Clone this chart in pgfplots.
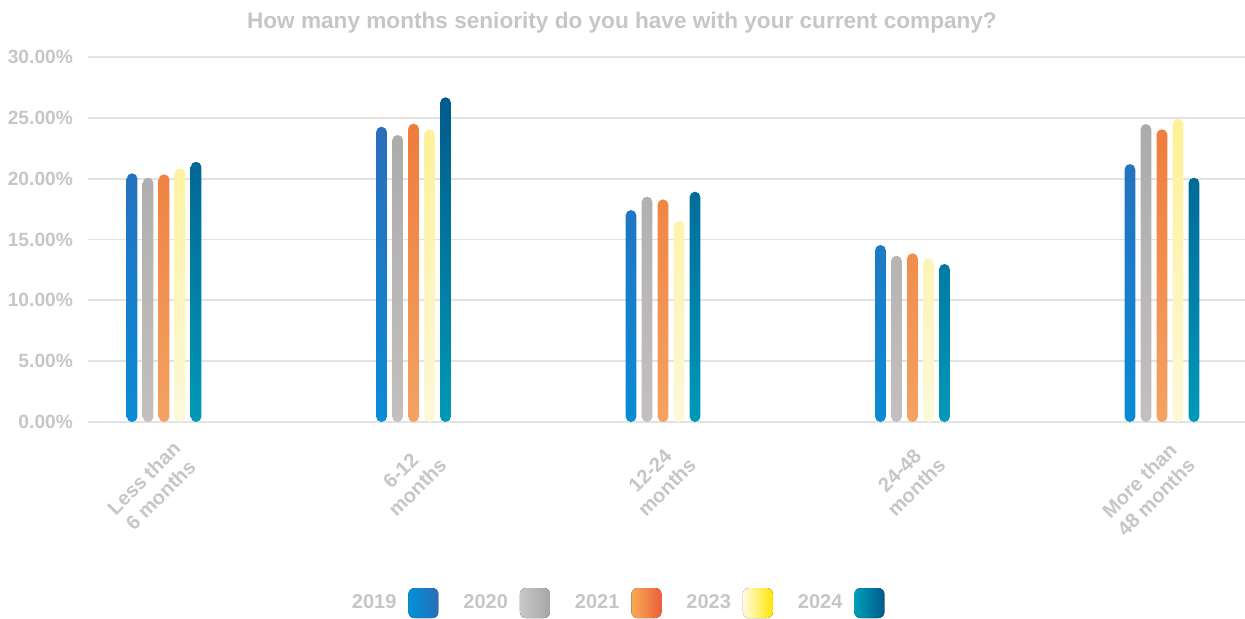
\documentclass[border=0pt]{standalone}
\usepackage{pgfplots}
\pgfplotsset{compat=1.18}
\usepackage{fontspec}
\setmainfont{Liberation Sans}
\definecolor{txtgray}{HTML}{C6C6C6}
\definecolor{gridgray}{HTML}{E2E2E2}
% bar gradients: top / bottom
\definecolor{aTop}{HTML}{2A6EBB}\definecolor{aBot}{HTML}{0A8BD5}
\definecolor{bTop}{HTML}{ABABAB}\definecolor{bBot}{HTML}{C5BFBF}
\definecolor{cTop}{HTML}{EF7C3C}\definecolor{cBot}{HTML}{F4A262}
\definecolor{dTop}{HTML}{FEF196}\definecolor{dBot}{HTML}{FDF8DA}
\definecolor{eTop}{HTML}{005B8D}\definecolor{eBot}{HTML}{0099B8}
% legend swatches: left / right
\definecolor{aL}{HTML}{0092D8}\definecolor{aR}{HTML}{2A6DBA}
\definecolor{bL}{HTML}{C8C8C8}\definecolor{bR}{HTML}{A6A6A6}
\definecolor{cL}{HTML}{F6AC52}\definecolor{cR}{HTML}{EC5E3E}
\definecolor{dL}{HTML}{FFFBE2}\definecolor{dR}{HTML}{FFE600}
\definecolor{eL}{HTML}{009DB8}\definecolor{eR}{HTML}{005A8C}

\newcommand{\swatch}[2]{\path (0pt,0pt);\fill[rounded corners=3pt,left color=#1,right color=#2,draw=none] (4pt,-7.5pt) rectangle (19pt,7.5pt);}

\begin{document}
\begin{tikzpicture}
\useasboundingbox (-44pt,-98pt) rectangle (578.5pt,211pt);
\begin{axis}[
  scale only axis,
  width=578.5pt, height=182.5pt,
  xmin=-0.305, xmax=4.333,
  ymin=0, ymax=30,
  clip=false,
  ybar=2.6pt, bar width=5.4pt,
  axis line style={draw=none},
  tick style={draw=none},
  ymajorgrids,
  grid style={gridgray, line width=0.9pt},
  ytick={0,5,...,30},
  /pgf/number format/assume math mode=true,
  yticklabel={\pgfmathprintnumber[fixed,fixed zerofill,precision=2]{\tick}\%},
  yticklabel style={font=\bfseries\fontsize{9.6}{11}\selectfont, text=txtgray, xshift=-4pt},
  xtick={0,1,2,3,4},
  xticklabels={{Less than\\6 months},{6-12\\months},{12-24\\months},{24-48\\months},{More than\\48 months}},
  xticklabel style={xshift=13pt, yshift=-9pt, rotate=45, anchor=east, align=center,
    font=\bfseries\fontsize{10}{11.8}\selectfont, text=txtgray},
  title={How many months seniority do you have with your current company?},
  title style={at={(0.4615,1.06)}, anchor=center, font=\bfseries\fontsize{11.3}{13}\selectfont, text=txtgray},
  legend plot pos=right,
  legend columns=5,
  legend style={at={(0.4565,-0.496)}, anchor=center, draw=none, fill=none,
    font=\bfseries\fontsize{10}{12}\selectfont, text=txtgray,
    /tikz/every even column/.append style={column sep=10.5pt}},
]
\addplot[draw=none, top color=aTop, bottom color=aBot, rounded corners=2.7pt,
  legend image code/.code={\swatch{aL}{aR}}]
  coordinates {(0,20.44) (1,24.27) (2,17.42) (3,14.55) (4,21.2)};
\addlegendentry{2019}
\addplot[draw=none, top color=bTop, bottom color=bBot, rounded corners=2.7pt,
  legend image code/.code={\swatch{bL}{bR}}]
  coordinates {(0,20.08) (1,23.59) (2,18.52) (3,13.67) (4,24.49)};
\addlegendentry{2020}
\addplot[draw=none, top color=cTop, bottom color=cBot, rounded corners=2.7pt,
  legend image code/.code={\swatch{cL}{cR}}]
  coordinates {(0,20.36) (1,24.52) (2,18.30) (3,13.87) (4,24.06)};
\addlegendentry{2021}
\addplot[draw=none, top color=dTop, bottom color=dBot, rounded corners=2.7pt,
  legend image code/.code={\swatch{dL}{dR}}]
  coordinates {(0,20.85) (1,24.06) (2,16.54) (3,13.45) (4,24.9)};
\addlegendentry{2023}
\addplot[draw=none, top color=eTop, bottom color=eBot, rounded corners=2.7pt,
  legend image code/.code={\swatch{eL}{eR}}]
  coordinates {(0,21.39) (1,26.69) (2,18.93) (3,12.99) (4,20.08)};
\addlegendentry{2024}
\end{axis}
\end{tikzpicture}
\end{document}
